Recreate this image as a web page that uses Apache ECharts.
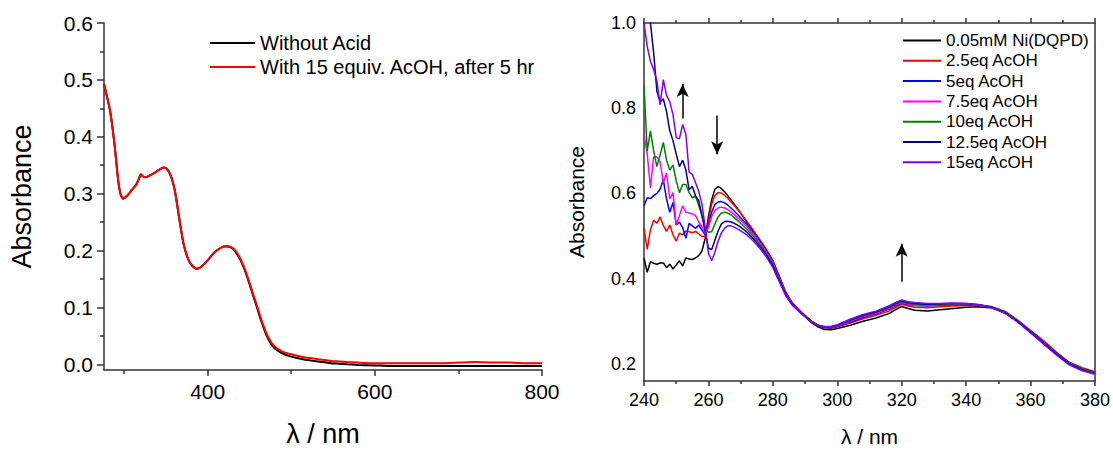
<!DOCTYPE html>
<html><head><meta charset="utf-8">
<script src="https://cdn.jsdelivr.net/npm/echarts@6/dist/echarts.min.js"></script>
<style>html,body{margin:0;padding:0;background:#fff}#c{width:1113px;height:452px}</style>
</head><body><div id="c"></div>
<script>
// ---------- Left panel data ----------
const leftNm = [276,279,283,286,289,293,296,299,302,306,309,312,315,318,320,322,325,328,332,337,342,347,350,353,356,359,362,365,368,371,374,377,380,384,387,391,395,399,403,407,411,415,419,423,427,431,435,439,443,447,451,455,459,463,467,471,475,479,483,490,499,507,517,527,537,547,557,567,580,600,620,650,680,700,720,740,760,780,800];
const leftWithAcid = [0.493,0.474,0.448,0.418,0.381,0.323,0.298,0.291,0.294,0.300,0.306,0.311,0.317,0.327,0.334,0.331,0.329,0.330,0.333,0.337,0.342,0.346,0.345,0.340,0.331,0.317,0.295,0.266,0.238,0.213,0.196,0.184,0.176,0.170,0.168,0.170,0.175,0.181,0.188,0.195,0.200,0.204,0.207,0.208,0.207,0.203,0.196,0.186,0.173,0.157,0.139,0.121,0.103,0.084,0.067,0.052,0.041,0.033,0.028,0.022,0.018,0.015,0.012,0.010,0.008,0.006,0.005,0.004,0.003,0.002,0.002,0.002,0.002,0.003,0.004,0.003,0.003,0.002,0.002];
const leftNoAcid = [0.493,0.474,0.448,0.418,0.381,0.323,0.298,0.291,0.294,0.300,0.306,0.311,0.317,0.327,0.334,0.331,0.329,0.330,0.333,0.337,0.342,0.346,0.345,0.340,0.331,0.317,0.295,0.266,0.238,0.213,0.196,0.184,0.176,0.170,0.168,0.170,0.175,0.181,0.188,0.195,0.200,0.204,0.207,0.207,0.206,0.202,0.194,0.184,0.171,0.155,0.137,0.118,0.100,0.081,0.064,0.049,0.038,0.030,0.025,0.019,0.014,0.011,0.008,0.006,0.004,0.002,0.001,0.000,-0.001,-0.002,-0.003,-0.003,-0.003,-0.003,-0.003,-0.003,-0.003,-0.003,-0.003];
const leftNames = ['Without Acid','With 15 equiv. AcOH, after 5 hr'];
const leftXLabels = [400,600,800];
const leftXMinor = [300,500,700];
const leftYLabels = [0,0.1,0.2,0.3,0.4,0.5,0.6];
const leftYMinor = [0.05,0.15,0.25,0.35,0.45,0.55];

// ---------- Right panel data ----------
const rightNm = [240,241,242,243,244,245,246,247,248,249,250,251,252,253,254,255,256,257,258,259,260,261,262,263,264,265,266,267,268,269,270,272,274,276,278,280,282,284,286,288,290,292,294,296,298,300,304,308,312,316,318,320,322,324,328,332,336,340,344,348,352,356,360,364,368,372,376,380];
const rNi = [0.449,0.415,0.440,0.436,0.434,0.437,0.437,0.426,0.434,0.423,0.432,0.442,0.430,0.449,0.446,0.445,0.449,0.454,0.465,0.495,0.545,0.585,0.610,0.616,0.612,0.604,0.595,0.585,0.575,0.565,0.554,
 0.532,0.511,0.489,0.466,0.440,0.403,0.366,0.341,0.325,0.311,0.297,0.287,0.281,0.280,0.283,
 0.291,0.300,0.308,0.318,0.327,0.335,0.330,0.326,0.324,0.327,0.330,0.333,0.334,0.331,0.320,0.300,0.276,0.251,0.225,0.202,0.189,0.180];
const r2p5 = [0.518,0.469,0.515,0.537,0.530,0.545,0.525,0.511,0.526,0.503,0.488,0.507,0.503,0.512,0.510,0.508,0.511,0.505,0.499,0.500,0.535,0.575,0.595,0.602,0.601,0.596,0.589,0.580,0.572,0.563,0.554,
 0.534,0.513,0.491,0.469,0.443,0.406,0.369,0.344,0.328,0.314,0.300,0.290,0.285,0.284,0.287,
 0.296,0.306,0.314,0.324,0.332,0.340,0.336,0.333,0.332,0.334,0.336,0.337,0.337,0.334,0.324,0.303,0.279,0.255,0.228,0.204,0.191,0.182];
const r5 = [0.571,0.590,0.588,0.595,0.600,0.610,0.632,0.587,0.556,0.579,0.526,0.533,0.520,0.495,0.530,0.524,0.518,0.526,0.514,0.503,0.525,0.556,0.574,0.580,0.581,0.578,0.573,0.566,0.559,0.551,0.543,
 0.527,0.508,0.488,0.466,0.441,0.404,0.367,0.343,0.327,0.313,0.300,0.290,0.285,0.285,0.288,
 0.298,0.309,0.317,0.328,0.336,0.343,0.339,0.337,0.336,0.338,0.339,0.339,0.338,0.333,0.322,0.301,0.277,0.252,0.226,0.203,0.189,0.180];
const r7p5 = [0.739,0.693,0.613,0.686,0.686,0.674,0.625,0.648,0.587,0.602,0.526,0.548,0.571,0.556,0.554,0.552,0.548,0.533,0.522,0.506,0.520,0.546,0.560,0.566,0.568,0.566,0.562,0.557,0.551,0.544,0.537,
 0.522,0.504,0.484,0.462,0.437,0.401,0.365,0.342,0.327,0.313,0.300,0.291,0.286,0.286,0.289,
 0.300,0.311,0.319,0.330,0.338,0.344,0.340,0.338,0.337,0.339,0.340,0.340,0.338,0.333,0.321,0.301,0.276,0.251,0.225,0.202,0.188,0.179];
const r10 = [0.854,0.700,0.747,0.700,0.663,0.690,0.720,0.678,0.655,0.667,0.630,0.602,0.621,0.621,0.602,0.590,0.594,0.571,0.548,0.515,0.509,0.510,0.528,0.545,0.554,0.556,0.554,0.550,0.544,0.537,0.530,
 0.516,0.499,0.480,0.459,0.434,0.399,0.364,0.341,0.326,0.313,0.300,0.291,0.287,0.287,0.290,
 0.302,0.313,0.321,0.332,0.340,0.346,0.342,0.340,0.339,0.340,0.341,0.341,0.339,0.334,0.322,0.301,0.276,0.250,0.224,0.202,0.188,0.179];
const r12p5 = [1.080,1.040,1.000,0.930,0.840,0.815,0.822,0.792,0.747,0.724,0.693,0.663,0.678,0.655,0.609,0.617,0.594,0.583,0.548,0.512,0.472,0.468,0.490,0.512,0.528,0.534,0.535,0.533,0.530,0.526,0.521,
 0.509,0.493,0.475,0.455,0.430,0.396,0.362,0.340,0.325,0.312,0.300,0.291,0.287,0.287,0.291,
 0.303,0.314,0.322,0.334,0.342,0.348,0.344,0.342,0.340,0.341,0.342,0.342,0.339,0.333,0.320,0.300,0.275,0.249,0.223,0.200,0.186,0.177];
const r15 = [1.000,0.945,0.910,0.890,0.865,0.808,0.867,0.830,0.815,0.785,0.731,0.728,0.762,0.739,0.650,0.645,0.625,0.605,0.575,0.520,0.460,0.442,0.462,0.488,0.507,0.518,0.524,0.524,0.521,0.517,0.512,
 0.502,0.488,0.471,0.451,0.426,0.393,0.360,0.338,0.324,0.311,0.299,0.291,0.288,0.288,0.292,
 0.305,0.316,0.324,0.336,0.344,0.350,0.346,0.344,0.342,0.342,0.343,0.342,0.339,0.332,0.319,0.298,0.273,0.247,0.221,0.198,0.184,0.176];
const rightNames = ['0.05mM Ni(DQPD)','2.5eq AcOH','5eq AcOH','7.5eq AcOH','10eq AcOH','12.5eq AcOH','15eq AcOH'];
const rightColors = ['#000000','#ff0000','#0000ff','#ff00ff','#008000','#000080','#8000ff'];
const rightYLabels = [0.2,0.4,0.6,0.8,1.0];
// arrows: [x, from y, to y]
const arrows = [[252,0.776,0.857],[262.7,0.783,0.692],[320,0.393,0.482]];

const FF = 'Liberation Sans, Arial, sans-serif';
const AX = '#333';
const rightSeriesData = [rNi, r2p5, r5, r7p5, r10, r12p5, r15];

const chart = echarts.init(document.getElementById('c'), null, {renderer: 'svg'});

const series = [
  {name: leftNames[0], type: 'line', xAxisIndex: 0, yAxisIndex: 0, symbol: 'none', smooth: 0.2,
   data: leftNm.map((x, i) => [x, leftNoAcid[i]]), lineStyle: {color: '#000', width: 2}, itemStyle: {color: '#000'}},
  {name: leftNames[1], type: 'line', xAxisIndex: 0, yAxisIndex: 0, symbol: 'none', smooth: 0.2,
   data: leftNm.map((x, i) => [x, leftWithAcid[i]]), lineStyle: {color: '#ff0000', width: 2}, itemStyle: {color: '#ff0000'}}
];
rightSeriesData.forEach((arr, k) => {
  series.push({
    name: rightNames[k], type: 'line', xAxisIndex: 2, yAxisIndex: 2, symbol: 'none', clip: true,
    data: rightNm.map((x, i) => [x, arr[i]]),
    lineStyle: {color: rightColors[k], width: 1.5}, itemStyle: {color: rightColors[k]}
  });
});
// arrows as mark lines through the data scales
series.push({
  type: 'line', xAxisIndex: 2, yAxisIndex: 2, data: [], symbol: 'none', silent: true,
  markLine: {
    silent: true, animation: false, symbol: ['none', 'arrow'], symbolSize: [9, 13],
    label: {show: false}, emphasis: {disabled: true},
    itemStyle: {color: '#000'},
    lineStyle: {color: '#000', width: 1.5, type: 'solid'},
    data: arrows.map(a => [{coord: [a[0], a[1]]}, {coord: [a[0], a[2]]}])
  }
});

const tickStyle = {color: AX, width: 1.5};
chart.setOption({
  animation: false,
  backgroundColor: '#fff',
  textStyle: {fontFamily: FF},
  grid: [
    {left: 104, top: 23, width: 438, height: 352},
    {left: 644, top: 23, width: 451, height: 366}
  ],
  legend: [
    {data: leftNames, left: 210, top: 33, padding: 0, orient: 'vertical', icon: 'rect', itemWidth: 45, itemHeight: 2, itemGap: 4,
     textStyle: {fontSize: 20, lineHeight: 20, color: '#000', fontFamily: FF}},
    {data: rightNames, left: 903, top: 32, padding: 0, orient: 'vertical', icon: 'rect', itemWidth: 38, itemHeight: 2, itemGap: 3.3,
     textStyle: {fontSize: 17, lineHeight: 17, color: '#000', fontFamily: FF}}
  ],
  xAxis: [
    {gridIndex: 0, type: 'value', min: 276, max: 800, position: 'bottom',
     axisLine: {show: true, onZero: false, lineStyle: tickStyle},
     axisTick: {show: true, customValues: leftXLabels, length: 6, lineStyle: tickStyle},
     axisLabel: {customValues: leftXLabels, fontSize: 21, color: '#000', margin: 11, fontFamily: FF},
     splitLine: {show: false},
     name: 'λ / nm', nameLocation: 'middle', nameGap: 50, nameTextStyle: {fontSize: 27, color: '#000', fontFamily: FF}},
    {gridIndex: 0, type: 'value', min: 276, max: 800, position: 'bottom', offset: 0,
     axisLine: {show: false, onZero: false},
     axisTick: {show: true, customValues: leftXMinor, length: 4, lineStyle: tickStyle},
     axisLabel: {show: false}, splitLine: {show: false}},
    {gridIndex: 1, type: 'value', min: 240, max: 380, interval: 20, position: 'bottom',
     axisLine: {show: true, onZero: false, lineStyle: tickStyle},
     axisTick: {show: true, length: 5, lineStyle: tickStyle},
     minorTick: {show: true, splitNumber: 2, length: 3, lineStyle: tickStyle},
     axisLabel: {fontSize: 18, color: '#000', margin: 10, fontFamily: FF},
     splitLine: {show: false},
     name: 'λ / nm', nameLocation: 'middle', nameGap: 45, nameTextStyle: {fontSize: 21, color: '#000', fontFamily: FF}},
    {gridIndex: 1, type: 'value', min: 240, max: 380, interval: 20, position: 'top', offset: 0,
     axisLine: {show: true, onZero: false, lineStyle: tickStyle},
     axisTick: {show: true, length: 5, lineStyle: tickStyle},
     minorTick: {show: true, splitNumber: 2, length: 3, lineStyle: tickStyle},
     axisLabel: {show: false}, splitLine: {show: false}}
  ],
  yAxis: [
    {gridIndex: 0, type: 'value', min: -0.01, max: 0.6, position: 'left',
     axisLine: {show: true, onZero: false, lineStyle: tickStyle},
     axisTick: {show: true, customValues: leftYLabels, length: 7, lineStyle: tickStyle},
     axisLabel: {customValues: leftYLabels, fontSize: 21, color: '#000', margin: 11, fontFamily: FF, formatter: v => v.toFixed(1)},
     splitLine: {show: false},
     name: 'Absorbance', nameLocation: 'middle', nameGap: 69, nameRotate: 90, nameTextStyle: {fontSize: 27, color: '#000', fontFamily: FF}},
    {gridIndex: 0, type: 'value', min: -0.01, max: 0.6, position: 'left', offset: 0,
     axisLine: {show: false, onZero: false},
     axisTick: {show: true, customValues: leftYMinor, length: 4, lineStyle: tickStyle},
     axisLabel: {show: false}, splitLine: {show: false}},
    {gridIndex: 1, type: 'value', min: 0.16, max: 1.0, position: 'left',
     axisLine: {show: true, onZero: false, lineStyle: tickStyle},
     axisTick: {show: false},
     axisLabel: {customValues: rightYLabels, fontSize: 18, color: '#000', margin: 8, fontFamily: FF, formatter: v => v.toFixed(1)},
     splitLine: {show: false},
     name: 'Absorbance', nameLocation: 'middle', nameGap: 57, nameRotate: 90, nameTextStyle: {fontSize: 21, color: '#000', fontFamily: FF}},
    {gridIndex: 1, type: 'value', min: 0.16, max: 1.0, position: 'right', offset: 0,
     axisLine: {show: true, onZero: false, lineStyle: tickStyle},
     axisTick: {show: false}, axisLabel: {show: false}, splitLine: {show: false}}
  ],
  series: series
});
</script>
</body></html>
